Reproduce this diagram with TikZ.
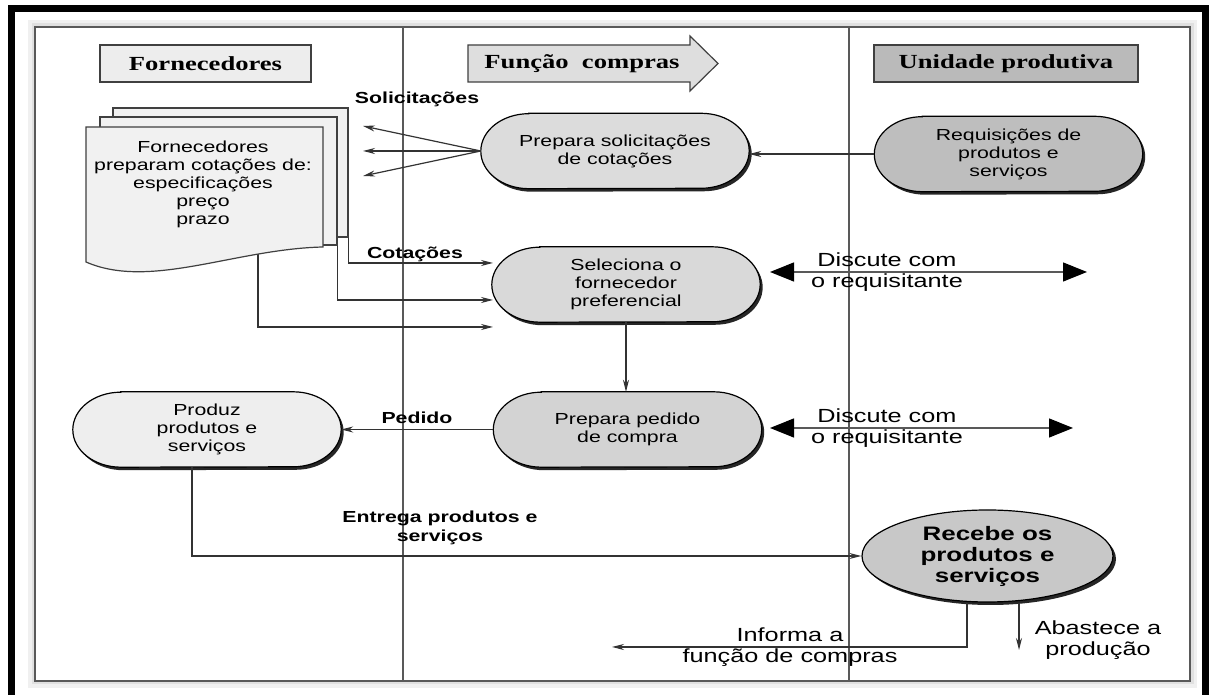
\documentclass[tikz,border=0pt]{standalone}
\usepackage{fontspec}
\setmainfont{Liberation Sans}[FakeStretch=1.33]
\newfontfamily\hdrfont{Liberation Serif}[FakeStretch=1.33]
\usetikzlibrary{arrows.meta,backgrounds,shapes.geometric}
\definecolor{docgray}{HTML}{F1F1F1}
\definecolor{psgray}{HTML}{DCDCDC}
\definecolor{rqgray}{HTML}{BEBEBE}
\definecolor{selgray}{HTML}{D9D9D9}
\definecolor{ppgray}{HTML}{D3D3D3}
\definecolor{pzgray}{HTML}{EEEEEE}
\definecolor{rcgray}{HTML}{C8C8C8}
\definecolor{linegray}{HTML}{333333}
\newcommand\stadbg[2]{%
 \begin{pgfonlayer}{background}
  \fill[black!85] ([shift={(50.5pt,-3pt)}]#1.north west) -- ([shift={(-45.5pt,-3pt)}]#1.north east)
     arc[start angle=90,end angle=-90,x radius=48pt,y radius=37.5pt]
     -- ([shift={(50.5pt,-3pt)}]#1.south west)
     arc[start angle=270,end angle=90,x radius=48pt,y radius=37.5pt] -- cycle;
  \filldraw[fill=#2,draw=black,line width=1.2pt] ([xshift=48pt]#1.north west) -- ([xshift=-48pt]#1.north east)
     arc[start angle=90,end angle=-90,x radius=48pt,y radius=37.5pt]
     -- ([xshift=48pt]#1.south west)
     arc[start angle=270,end angle=90,x radius=48pt,y radius=37.5pt] -- cycle;
 \end{pgfonlayer}}
\begin{document}
\begin{tikzpicture}[x=1pt,y=1pt,
  stad/.style={rectangle,draw=none,minimum width=268pt,minimum height=75pt,inner sep=0pt,
     align=center,font=\fontsize{16}{18}\selectfont},
  hdr/.style={draw=black!75,line width=1.2pt,minimum height=37pt,inner sep=0pt,
     font=\hdrfont\bfseries\fontsize{20}{22}\selectfont},
  lbl/.style={inner sep=0pt,align=center,font=\bfseries\fontsize{16}{19}\selectfont},
  big/.style={inner sep=0pt,align=center,font=\fontsize{19}{21.5}\selectfont},
  arr/.style={draw=linegray,line width=1.2pt,-{Stealth[length=12pt,width=6pt]}},
  dbl/.style={draw=black!65,line width=1.3pt,
     {Triangle[length=24pt,width=19pt,color=black]}-{Triangle[length=24pt,width=19pt,color=black]}},
  docbox/.style={draw=black!75,fill=docgray,line width=1.2pt,inner sep=0pt}]
\useasboundingbox (0,0) rectangle (1211,695);
\begin{pgfonlayer}{background}
% outer black frame
\draw[line width=7pt] (11,-10) -- (11,686.5) -- (1205.5,686.5) -- (1205.5,-10);
% inner frame with soft shadow
\draw[line width=14pt,black!6] (35,668) rectangle (1190,14);
\draw[line width=7pt,black!12] (35,668) rectangle (1190,14);
\fill[white] (35,668) rectangle (1190,14);
\draw[line width=1.4pt,black!65] (35,668) rectangle (1190,14);
% lane dividers
\draw[line width=1.4pt,black!65] (403,668) -- (403,14);
\draw[line width=1.4pt,black!65] (849,668) -- (849,14);
\end{pgfonlayer}
% headers
\node[hdr,fill=black!7,minimum width=211pt] (hforn) at (205.5,631.5) {Fornecedores};
\filldraw[draw=black!75,fill=black!13,line width=1.2pt] (468,650) -- (690,650) -- (690,659) -- (718,631.5) -- (690,604) -- (690,613) -- (468,613) -- cycle;
\node[inner sep=0pt,font=\hdrfont\bfseries\fontsize{20}{22}\selectfont] (hfunc) at (582,631.5) {Função\ \ compras};
\node[hdr,fill=black!27,minimum width=264pt] (hunid) at (1006,631.5) {Unidade produtiva};
% process nodes
\node[stad] (ps) at (615,544) {Prepara solicitações\\de cotações};
\stadbg{ps}{psgray}
\node[stad] (rq) at (1008.5,541) {Requisições de\\produtos e\\serviços};
\stadbg{rq}{rqgray}
\node[stad] (sel) at (626,410.5) {Seleciona o\\fornecedor\\preferencial};
\stadbg{sel}{selgray}
\node[stad] (pp) at (627.5,265.5) {Prepara pedido\\de compra};
\stadbg{pp}{ppgray}
\node[stad] (pz) at (207,265.5) {Produz\\produtos e\\serviços};
\stadbg{pz}{pzgray}
\begin{pgfonlayer}{background}
\fill[black!85] (990.5,136) ellipse [x radius=125.5pt, y radius=46pt];
\end{pgfonlayer}
\node[ellipse,draw=black,line width=1.2pt,fill=rcgray,minimum width=251pt,minimum height=92pt,
  inner sep=0pt,align=center,font=\bfseries\fontsize{19.5}{21}\selectfont] (rc) at (987.5,139)
  {Recebe os\\produtos e\\serviços};
% coordinates for free ends
\coordinate (s1) at (363,569);
\coordinate (s2) at (363,544);
\coordinate (s3) at (363,519);
\coordinate (t1) at (493,432);
\coordinate (t2) at (493,395);
\coordinate (t3) at (493,368);
\coordinate (f0) at (258,445);
\coordinate (d1l) at (770,423);
\coordinate (d1r) at (1087,423);
\coordinate (d2l) at (770,267);
\coordinate (d2r) at (1073,267);
\coordinate (inf) at (612,48);
\coordinate (ab) at (1019,45);
% front document connector (drawn under the document)
\draw[arr] (f0) |- (t3);
% document stack
\node[docbox,minimum width=235pt,minimum height=129pt] (d3) at (230.5,522.5) {};
\node[docbox,minimum width=237pt,minimum height=128pt] (d2) at (218.5,514) {};
\filldraw[draw=black!75,fill=docgray,line width=1.2pt] (86,568) -- (323,568) -- (323,448)
  .. controls (235,446) and (150,405) .. (86,433) -- cycle;
\node[inner sep=0pt,align=center,font=\fontsize{16}{18}\selectfont] (doc) at (203,511)
  {Fornecedores\\preparam cotações de:\\especificações\\preço\\prazo};
% connectors
\draw[arr] (d3.south east) |- (t1);
\draw[arr] (d2.south east) |- (t2);
\draw[arr] (ps.west) -- (s1);
\draw[arr] (ps.west) -- (s2);
\draw[arr] (ps.west) -- (s3);
\draw[arr] (rq.west) -- (rq.west -| ps.east);
\draw[arr] (sel.south) -- (sel.south |- pp.north);
\draw[arr] (pp.west) -- (pz.east);
\draw[arr] ([xshift=-15pt]pz.south) |- (rc.west);
\draw[arr] ([xshift=-20.5pt]rc.south) |- (inf);
\draw[arr] ([xshift=31.5pt]rc.south) -- (ab);
\draw[dbl] (d1l) -- (d1r);
\draw[dbl] (d2l) -- (d2r);
% labels
\node[lbl] (lsol) at (417,596) {Solicitações};
\node[lbl] (lcot) at (415,441) {Cotações};
\node[lbl] (lped) at (417,277) {Pedido};
\node[lbl] (lent) at (440,167) {Entrega produtos e\\serviços};
\node[big] (ld1) at (887,423) {Discute com\\o requisitante};
\node[big] (ld2) at (887,267) {Discute com\\o requisitante};
\node[big] (linf) at (790,48) {Informa a\\função de compras};
\node[big] (labs) at (1098,55) {Abastece a\\produção};
\end{tikzpicture}
\end{document}
